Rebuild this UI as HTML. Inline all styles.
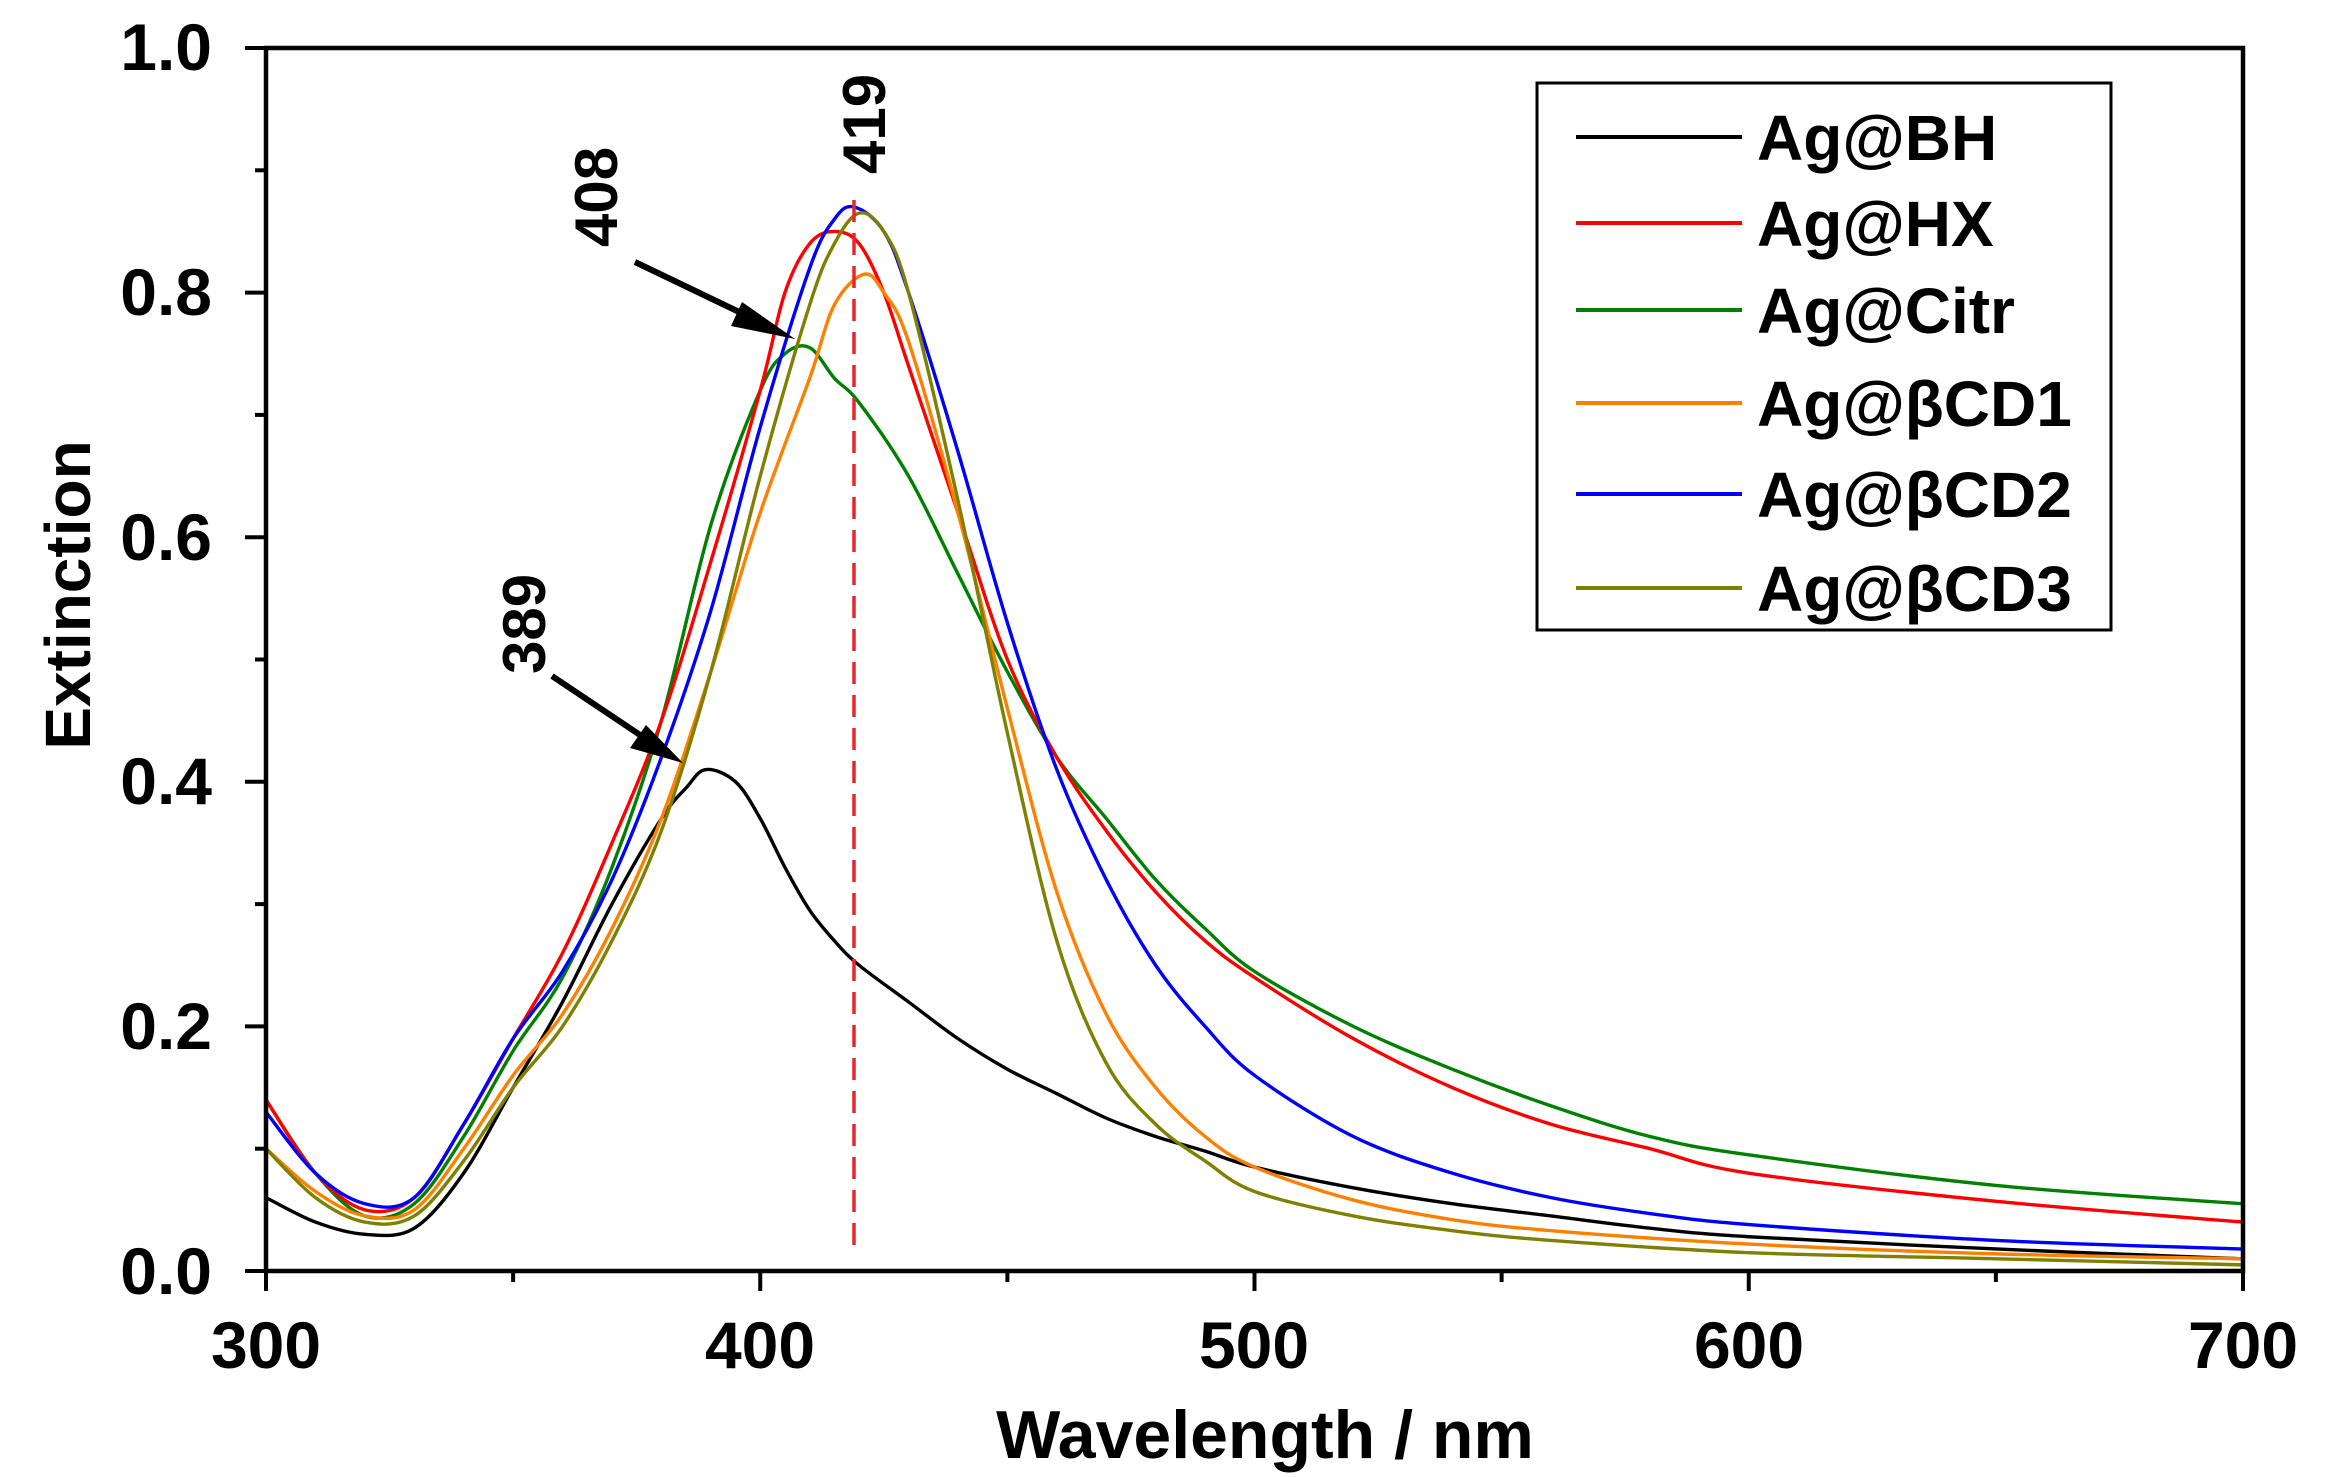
<!DOCTYPE html>
<html><head><meta charset="utf-8"><style>
html,body{margin:0;padding:0;background:#fff;}
svg{display:block;}
text{font-family:"Liberation Sans",Arial,sans-serif;font-weight:bold;fill:#000;}
</style></head><body>
<svg id="s" width="2341" height="1477" viewBox="0 0 2341 1477" xmlns="http://www.w3.org/2000/svg">
<rect width="2341" height="1477" fill="#fff"/>
<g id="curves" fill="none" stroke-width="3.4" stroke-linejoin="round"></g>
<line x1="854" y1="200" x2="854" y2="1248" stroke="#e8262a" stroke-width="3.5" stroke-dasharray="22,11"/>
<rect x="266" y="48" width="1977" height="1223" fill="none" stroke="#000" stroke-width="4.5"/>
<g id="ticks" stroke="#000" stroke-width="4"></g>
<g font-size="66" text-anchor="middle">
<text x="266" y="1368">300</text><text x="760" y="1368">400</text><text x="1254" y="1368">500</text><text x="1749" y="1368">600</text><text x="2243" y="1368">700</text>
</g>
<g font-size="66" text-anchor="end">
<text x="212" y="1294">0.0</text><text x="212" y="1049">0.2</text><text x="212" y="804">0.4</text><text x="212" y="560">0.6</text><text x="212" y="315">0.8</text><text x="212" y="70">1.0</text>
</g>
<text x="1265" y="1458" font-size="68" text-anchor="middle">Wavelength / nm</text>
<text transform="translate(90,595) rotate(-90)" font-size="64" text-anchor="middle">Extinction</text>
<text transform="translate(885,124) rotate(-90)" font-size="60" text-anchor="middle">419</text>
<text transform="translate(617,197) rotate(-90)" font-size="60" text-anchor="middle">408</text>
<text transform="translate(545,624) rotate(-90)" font-size="60" text-anchor="middle">389</text>
<g stroke="#000" stroke-width="6">
<line x1="635" y1="262" x2="760" y2="322"/>
<line x1="552" y1="676" x2="655" y2="745"/>
</g>
<polygon points="795,339 742,302 731,326" fill="#000"/>
<polygon points="683,763 646,725 630,748" fill="#000"/>
<rect x="1537" y="83" width="574" height="547" fill="#fff" stroke="#000" stroke-width="3"/>
<g stroke-width="4">
<line x1="1576" y1="137" x2="1742" y2="137" stroke="#000"/>
<line x1="1576" y1="223" x2="1742" y2="223" stroke="#ff0000"/>
<line x1="1576" y1="310" x2="1742" y2="310" stroke="#008000"/>
<line x1="1576" y1="403" x2="1742" y2="403" stroke="#ff8000"/>
<line x1="1576" y1="494" x2="1742" y2="494" stroke="#0000ff"/>
<line x1="1576" y1="588" x2="1742" y2="588" stroke="#808000"/>
</g>
<g font-size="64">
<text x="1757" y="160">Ag@BH</text>
<text x="1757" y="246">Ag@HX</text>
<text x="1757" y="333">Ag@Citr</text>
<text x="1757" y="426">Ag@βCD1</text>
<text x="1757" y="517">Ag@βCD2</text>
<text x="1757" y="611">Ag@βCD3</text>
</g>
</svg>
<script>
var X=function(n){return 266+(n-300)*1977/400;},Y=function(v){return 1271-v*1223;};
var tk=document.getElementById("ticks"),h="";
for(var n=300;n<=700;n+=50){var maj=(n%100==0);h+='<line x1="'+X(n)+'" y1="1271" x2="'+X(n)+'" y2="'+(1271+(maj?20:11))+'"/>';}
for(var v=0;v<=1.0001;v+=0.1){var maj=(Math.round(v*10)%2==0);h+='<line x1="266" y1="'+Y(v)+'" x2="'+(266-(maj?21:11))+'" y2="'+Y(v)+'"/>';}
tk.innerHTML=h;
var D={
"#000":[[300,.06],[310,.04],[320,.03],[330,.035],[340,.08],[350,.15],[360,.22],[370,.30],[380,.37],[385,.395],[389,.41],[395,.40],[400,.37],[405,.33],[410,.295],[415,.27],[420,.25],[430,.22],[440,.19],[450,.165],[460,.145],[470,.125],[480,.11],[490,.098],[500,.085],[520,.068],[540,.055],[560,.045],[580,.035],[600,.028],[650,.018],[700,.01]],
"#008000":[[300,.14],[310,.08],[320,.045],[330,.055],[340,.11],[350,.18],[360,.24],[370,.33],[380,.45],[390,.61],[400,.72],[405,.75],[410,.755],[415,.73],[420,.71],[430,.65],[440,.57],[450,.49],[460,.42],[470,.37],[480,.32],[490,.28],[500,.245],[520,.20],[540,.165],[560,.135],[580,.11],[600,.095],[650,.07],[700,.055]],
"#ff0000":[[300,.14],[310,.08],[320,.05],[330,.06],[340,.12],[350,.19],[360,.26],[370,.35],[380,.45],[390,.58],[400,.72],[405,.8],[410,.84],[415,.85],[420,.84],[425,.80],[430,.74],[440,.62],[450,.50],[460,.42],[470,.36],[480,.31],[490,.27],[500,.24],[520,.19],[540,.15],[560,.12],[580,.10],[600,.08],[650,.057],[700,.04]],
"#0000ff":[[300,.13],[310,.08],[320,.055],[330,.06],[340,.12],[350,.19],[360,.245],[370,.32],[380,.42],[390,.54],[400,.69],[410,.82],[415,.86],[419,.87],[425,.85],[430,.80],[440,.67],[450,.53],[460,.41],[470,.32],[480,.25],[490,.2],[500,.16],[520,.11],[540,.08],[560,.06],[580,.047],[600,.038],[650,.025],[700,.018]],
"#ff8000":[[300,.10],[310,.065],[320,.045],[330,.05],[340,.1],[350,.16],[360,.21],[370,.28],[380,.37],[390,.49],[400,.62],[410,.73],[415,.79],[421,.815],[425,.80],[430,.76],[440,.62],[450,.46],[460,.31],[470,.21],[480,.15],[490,.11],[500,.085],[520,.058],[540,.042],[560,.033],[600,.022],[650,.014],[700,.01]],
"#808000":[[300,.10],[310,.06],[320,.04],[330,.045],[340,.09],[350,.15],[360,.2],[370,.27],[380,.36],[390,.49],[400,.65],[410,.79],[415,.84],[420,.865],[425,.85],[430,.8],[440,.63],[450,.44],[460,.27],[470,.17],[480,.12],[490,.09],[500,.065],[520,.045],[540,.033],[560,.025],[600,.015],[650,.01],[700,.005]]
};
var g=document.getElementById("curves"),out="";
for(var c in D){var p=D[c].map(function(a){return [X(a[0]),Y(a[1])];});
var d="M"+p[0][0]+","+p[0][1];
for(var i=0;i<p.length-1;i++){var p0=p[i-1]||p[i],p1=p[i],p2=p[i+1],p3=p[i+2]||p2;
d+=" C"+(p1[0]+(p2[0]-p0[0])/6)+","+(p1[1]+(p2[1]-p0[1])/6)+" "+(p2[0]-(p3[0]-p1[0])/6)+","+(p2[1]-(p3[1]-p1[1])/6)+" "+p2[0]+","+p2[1];}
out+='<path d="'+d+'" stroke="'+c+'"/>';}
g.innerHTML=out;
</script>
</body></html>
